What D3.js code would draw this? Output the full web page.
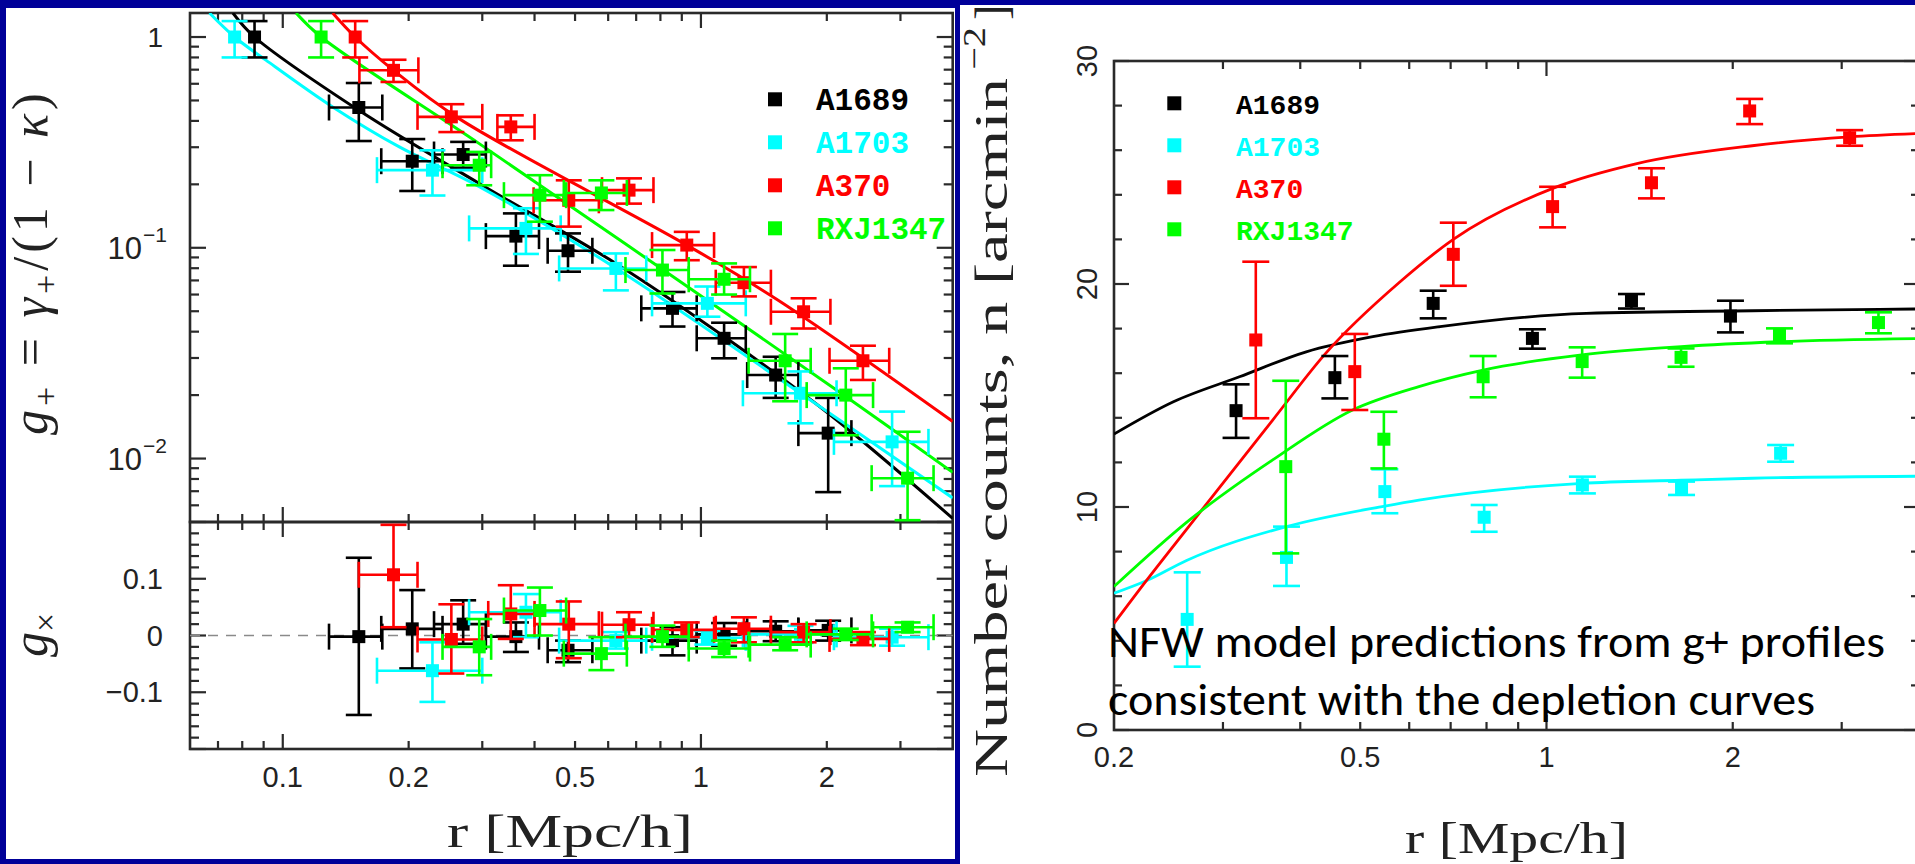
<!DOCTYPE html>
<html><head><meta charset="utf-8">
<script src="https://cdn.jsdelivr.net/npm/d3@7"></script>
<style>body{margin:0;background:#000099;overflow:hidden} svg{display:block}</style>
</head><body>
<svg id="chart" width="1915" height="864"></svg>
<script>
// ---------------- DATA ----------------
const seriesNames = ["A1689", "A1703", "A370", "RXJ1347"];
const seriesColors = ["#000000", "#00ffff", "#ff0000", "#00ff00"];

// Left top panel: g+ profile  [r, g, rLo, rHi, gLo, gHi]
const gplusA1689 = [
  [0.0856,1.0,0.0856,0.0856,0.80,1.19],[0.152,0.463,0.129,0.173,0.321,0.605],
  [0.204,0.2575,0.172,0.241,0.186,0.328],[0.270,0.277,0.230,0.306,0.24,0.318],
  [0.361,0.1136,0.306,0.41,0.0822,0.1456],[0.481,0.0968,0.43,0.55,0.077,0.117],
  [0.855,0.0516,0.72,0.977,0.0423,0.0617],[1.136,0.0372,0.977,1.28,0.0299,0.0441],
  [1.509,0.0249,1.29,1.71,0.0194,0.0304],[2.015,0.0132,1.71,2.29,0.00693,0.0194]];
const gplusA1703 = [
  [0.0767,1.0,0.0767,0.0767,0.80,1.19],[0.228,0.2335,0.168,0.30,0.177,0.29],
  [0.3815,0.1236,0.279,0.462,0.0935,0.154],[0.626,0.0798,0.458,0.74,0.0628,0.094],
  [1.036,0.0545,0.764,1.28,0.0471,0.0655],[1.73,0.0204,1.26,2.11,0.0147,0.0259],
  [2.865,0.012,2.08,3.5,0.0074,0.0167]];
const gplusA370 = [
  [0.149,1.0,0.149,0.149,0.80,1.19],[0.184,0.695,0.1525,0.211,0.612,0.78],
  [0.253,0.418,0.21,0.30,0.354,0.48],[0.351,0.3746,0.326,0.40,0.3236,0.425],
  [0.483,0.168,0.398,0.57,0.126,0.209],[0.673,0.1877,0.58,0.77,0.162,0.2135],
  [0.925,0.103,0.764,1.075,0.0873,0.119],[1.267,0.0683,1.085,1.47,0.0588,0.081],
  [1.76,0.0497,1.47,2.04,0.0414,0.0576],[2.44,0.0291,2.03,2.82,0.0236,0.0343]];
const gplusRXJ1347 = [
  [0.1235,1.0,0.1235,0.1235,0.80,1.19],[0.295,0.2465,0.241,0.315,0.198,0.285],
  [0.412,0.1777,0.338,0.476,0.133,0.221],[0.578,0.182,0.47,0.665,0.151,0.209],
  [0.809,0.0784,0.66,0.935,0.0607,0.0976],[1.136,0.0709,0.935,1.31,0.06,0.0843],
  [1.59,0.0291,1.30,1.83,0.0187,0.039],[2.22,0.02,1.79,2.58,0.0129,0.0268],
  [3.12,0.00807,2.56,3.6,0.0051,0.0134]];

// NFW model curves for g+ [r, g]
const gplusModelA1689 = [[0.076,1.3],[0.0856,1.0],[0.152,0.449],[0.295,0.202],[0.626,0.0843],[1.136,0.0379],[2.015,0.0164],[4.0,0.0052]];
const gplusModelA1703 = [[0.0668,1.3],[0.0767,1.0],[0.0913,0.775],[0.1316,0.466],[0.19,0.301],[0.295,0.195],[0.626,0.08],[1.73,0.0204],[4.0,0.0065]];
const gplusModelA370 = [[0.1316,1.3],[0.149,1.0],[0.184,0.695],[0.264,0.41],[0.925,0.103],[1.53,0.0564],[4.0,0.015]];
const gplusModelRXJ1347 = [[0.1076,1.3],[0.1235,1.0],[0.295,0.312],[0.794,0.081],[2.22,0.0197],[4.0,0.0086]];

// Left bottom panel: g_x  [r, g, rLo, rHi, gLo, gHi]
const gcrossA1689 = [
  [0.152,-0.002,0.129,0.173,-0.14,0.137],[0.204,0.0117,0.172,0.241,-0.058,0.08],
  [0.270,0.02,0.23,0.306,-0.0146,0.062],[0.361,-0.002,0.306,0.41,-0.029,0.023],
  [0.481,-0.026,0.43,0.55,-0.047,-0.009],[0.855,-0.009,0.72,0.977,-0.035,0.0146],
  [1.136,0.002,0.977,1.28,-0.018,0.022],[1.509,0.0075,1.29,1.71,-0.01,0.025],
  [2.015,0.009,1.71,2.29,-0.009,0.026]];
const gcrossA1703 = [
  [0.228,-0.062,0.168,0.30,-0.117,-0.012],[0.3815,0.041,0.279,0.462,-0.003,0.073],
  [0.626,-0.009,0.458,0.74,-0.023,0.006],[1.036,-0.004,0.764,1.28,-0.016,0.008],
  [1.73,0.002,1.26,2.11,-0.013,0.017],[2.865,-0.003,2.08,3.5,-0.018,0.012]];
const gcrossA370 = [
  [0.184,0.107,0.152,0.21,0.0146,0.195],[0.253,-0.007,0.21,0.30,-0.067,0.055],
  [0.351,0.038,0.31,0.40,-0.006,0.0886],[0.483,0.02,0.40,0.57,-0.04,0.06],
  [0.673,0.019,0.58,0.77,-0.003,0.041],[0.925,0.01,0.764,1.075,-0.003,0.023],
  [1.267,0.012,1.085,1.47,-0.012,0.032],[1.76,0.006,1.47,2.04,-0.012,0.02],
  [2.44,-0.006,2.03,2.82,-0.017,0.006]];
const gcrossRXJ1347 = [
  [0.295,-0.02,0.241,0.315,-0.07,0.029],[0.412,0.044,0.338,0.476,0.0,0.0845],
  [0.578,-0.032,0.47,0.665,-0.061,-0.003],[0.809,-0.002,0.66,0.935,-0.02,0.0175],
  [1.136,-0.023,0.935,1.31,-0.038,-0.009],[1.59,-0.016,1.30,1.83,-0.026,-0.003],
  [2.22,0.002,1.79,2.58,-0.008,0.012],[3.12,0.0146,2.56,3.6,0.006,0.023]];

// Right panel: number counts  [r, n, nLo, nHi]
const countsA1689 = [[0.315,14.32,13.1,15.5],[0.455,15.8,14.87,16.77],[0.656,19.13,18.46,19.7],
  [0.949,17.56,17.1,17.97],[1.372,19.25,18.9,19.55],[1.983,18.56,17.83,19.25]];
const countsA1703 = [[0.2626,4.96,2.84,7.07],[0.38,7.74,6.46,9.12],[0.548,10.69,9.72,11.69],
  [0.793,9.54,8.89,10.09],[1.143,10.99,10.61,11.36],[1.653,10.84,10.54,11.14],[2.39,12.41,12.03,12.78]];
const countsA370 = [[0.339,17.49,13.98,21.0],[0.49,16.07,14.35,17.76],[0.707,21.33,19.92,22.75],
  [1.023,23.47,22.54,24.36],[1.478,24.54,23.84,25.19],[2.13,27.76,27.17,28.3],[3.09,26.56,26.2,26.9]];
const countsRXJ1347 = [[0.379,11.81,7.92,15.66],[0.546,13.04,11.73,14.27],[0.79,15.84,14.92,16.77],
  [1.142,16.52,15.8,17.16],[1.65,16.71,16.29,17.11],[2.38,17.71,17.34,18.01],[3.44,18.27,17.79,18.73]];

// NFW depletion predictions [r, n]
const countsModelA1689 = [[0.2,13.27],[0.2495,14.72],[0.319,15.84],[0.409,16.96],[0.524,17.64],[0.673,18.09],[1.16,18.68],[2.15,18.8],[4.0,18.88]];
const countsModelA1703 = [[0.2,6.13],[0.226,6.7],[0.262,7.6],[0.38,9.12],[0.548,10.04],[0.622,10.31],[1.14,11.06],[1.65,11.2],[2.15,11.29],[4.0,11.38]];
const countsModelA370 = [[0.2,4.78],[0.2256,6.7],[0.262,9.0],[0.361,13.9],[0.44,16.9],[0.58,20.1],[0.707,22.0],[1.026,24.3],[1.4,25.4],[2.15,26.2],[3.09,26.6],[4.0,26.75]];
const countsModelRXJ1347 = [[0.2,6.43],[0.265,9.42],[0.361,12.11],[0.486,14.35],[0.622,15.4],[0.79,16.14],[1.14,16.82],[1.65,17.19],[2.38,17.41],[4.0,17.55]];

// Tick values / labels
const leftXLabels = [0.1, 0.2, 0.5, 1, 2];
const leftXMajor = [0.1, 1];
const leftXMinor = [0.07,0.08,0.09,0.2,0.3,0.4,0.5,0.6,0.7,0.8,0.9,2,3];
const upperYMajor = [0.01, 0.1, 1];
const upperYMinor = [0.006,0.007,0.008,0.009,0.02,0.03,0.04,0.05,0.06,0.07,0.08,0.09,0.2,0.3,0.4,0.5,0.6,0.7,0.8,0.9];
const lowerYMajor = [-0.2,-0.1,0,0.1,0.2];
const lowerYMinor = [-0.18,-0.16,-0.14,-0.12,-0.08,-0.06,-0.04,-0.02,0.02,0.04,0.06,0.08,0.12,0.14,0.16,0.18];
const lowerYLabels = [[0.1,"0.1"],[0,"0"],[-0.1,"\u22120.1"]];
const rightXLabels = [0.2, 0.5, 1, 2];
const rightXMajor = [1];
const rightXMinor = [0.3,0.4,0.5,0.6,0.7,0.8,0.9,2,3];
const rightYMajor = [0,10,20,30];
const rightYMinor = [2,4,6,8,12,14,16,18,22,24,26,28];

// ---------------- DRAW ----------------
const svg = d3.select("#chart");
svg.append("rect").attr("width",1915).attr("height",864).attr("fill","#000099");
svg.append("rect").attr("x",6).attr("y",8).attr("width",949).attr("height",851).attr("fill","#ffffff");
svg.append("rect").attr("x",960).attr("y",5).attr("width",955).attr("height",859).attr("fill","#ffffff");

const AX = "#2a2a2a";
const SANS = "'Liberation Sans', Arial, Helvetica, sans-serif";
const SERIF = "'Liberation Serif', 'Times New Roman', serif";
const MONO = "'Liberation Mono', 'Courier New', monospace";

const xL = d3.scaleLog().domain([0.06, 4]).range([190, 952.7]);
const yU = d3.scaleLog().domain([0.005, 1.3]).range([522, 13]);
const yLo = d3.scaleLinear().domain([-0.2, 0.2]).range([749, 522]);
const xR = d3.scaleLog().domain([0.2, 4]).range([1114, 1919]);
const yR = d3.scaleLinear().domain([0, 30]).range([730, 61]);

const defs = svg.append("defs");
function clip(id, x, y, w, h){ defs.append("clipPath").attr("id", id).append("rect").attr("x",x).attr("y",y).attr("width",w).attr("height",h); }
clip("cu", 190, 13, 762.7, 509);
clip("cl", 190, 522, 762.7, 227);
clip("cr", 1114, 61, 805, 669);

function xTicks(g, sx, vals, y, len){
  g.append("g").selectAll("line").data(vals).join("line")
    .attr("x1", d=>sx(d)).attr("x2", d=>sx(d)).attr("y1", y).attr("y2", y+len)
    .attr("stroke", AX).attr("stroke-width", 2.2);
}
function yTicks(g, sy, vals, x, len){
  g.append("g").selectAll("line").data(vals).join("line")
    .attr("y1", d=>sy(d)).attr("y2", d=>sy(d)).attr("x1", x).attr("x2", x+len)
    .attr("stroke", AX).attr("stroke-width", 2.2);
}

// ---- Left: frames & ticks
const gAx = svg.append("g");
[[190,13,762.7,509],[190,522,762.7,227]].forEach(r=>{
  gAx.append("rect").attr("x",r[0]).attr("y",r[1]).attr("width",r[2]).attr("height",r[3])
    .attr("fill","none").attr("stroke",AX).attr("stroke-width",2.6);
});
[[13,1],[522,-1],[522,1],[749,-1]].forEach(([y,d])=>{
  xTicks(gAx, xL, leftXMajor, y, 15*d);
  xTicks(gAx, xL, leftXMinor, y, 8*d);
});
yTicks(gAx, yU, upperYMajor, 190, 16); yTicks(gAx, yU, upperYMinor, 190, 9);
yTicks(gAx, yU, upperYMajor, 952.7, -16); yTicks(gAx, yU, upperYMinor, 952.7, -9);
yTicks(gAx, yLo, lowerYMajor, 190, 16); yTicks(gAx, yLo, lowerYMinor, 190, 9);
yTicks(gAx, yLo, lowerYMajor, 952.7, -16); yTicks(gAx, yLo, lowerYMinor, 952.7, -9);

gAx.append("line").attr("x1",190).attr("x2",952.7).attr("y1",yLo(0)).attr("y2",yLo(0))
  .attr("stroke","#8a8a8a").attr("stroke-width",1.6).attr("stroke-dasharray","10,8");

gAx.append("g").selectAll("text").data(leftXLabels).join("text")
  .attr("x", d=>xL(d)).attr("y", 787).attr("text-anchor","middle")
  .attr("font-family", SANS).attr("font-size", 29).attr("fill","#222").text(d=>String(d));
gAx.append("text").attr("x",163).attr("y",yU(1)+10).attr("text-anchor","end")
  .attr("font-family",SANS).attr("font-size",28).attr("fill","#222").text("1");
[[0.1,"\u22121"],[0.01,"\u22122"]].forEach(([v,e])=>{
  gAx.append("text").attr("x",142).attr("y",yU(v)+11).attr("text-anchor","end")
    .attr("font-family",SANS).attr("font-size",31).attr("fill","#222").text("10");
  gAx.append("text").attr("x",143).attr("y",yU(v)-6).attr("text-anchor","start")
    .attr("font-family",SANS).attr("font-size",21).attr("fill","#222").text(e);
});
gAx.append("g").selectAll("text").data(lowerYLabels).join("text")
  .attr("x",163).attr("y",d=>yLo(d[0])+10).attr("text-anchor","end")
  .attr("font-family",SANS).attr("font-size",29).attr("fill","#222").text(d=>d[1]);

gAx.append("text").attr("x",447).attr("y",847).attr("font-family",SERIF).attr("font-size",46)
  .attr("fill","#222").attr("textLength",246).attr("lengthAdjust","spacingAndGlyphs").text("r [Mpc/h]");
const yt = gAx.append("text").attr("transform","translate(47,435) rotate(-90)")
  .attr("font-family",SERIF).attr("font-size",50).attr("fill","#222").attr("letter-spacing",4);
yt.append("tspan").attr("font-style","italic").text("g");
yt.append("tspan").attr("font-size",34).attr("dy",10).text("+");
yt.append("tspan").attr("dy",-10).text(" = ");
yt.append("tspan").attr("font-style","italic").text("\u03b3");
yt.append("tspan").attr("font-size",34).attr("dy",10).text("+");
yt.append("tspan").attr("dy",-10).text("/(1 \u2212 ");
yt.append("tspan").attr("font-style","italic").text("\u03ba");
yt.append("tspan").text(")");
const yt2 = gAx.append("text").attr("transform","translate(47,657) rotate(-90)")
  .attr("font-family",SERIF).attr("font-size",50).attr("fill","#222");
yt2.append("tspan").attr("font-style","italic").text("g");
yt2.append("tspan").attr("font-size",34).attr("dy",10).text("\u00d7");

// ---- Left: curves and points
const gplusData = [gplusA1689, gplusA1703, gplusA370, gplusRXJ1347];
const gplusModels = [gplusModelA1689, gplusModelA1703, gplusModelA370, gplusModelRXJ1347];
const gcrossData = [gcrossA1689, gcrossA1703, gcrossA370, gcrossRXJ1347];

const lineU = d3.line().x(d=>xL(d[0])).y(d=>yU(d[1])).curve(d3.curveCatmullRom);
const gCurves = svg.append("g").attr("clip-path","url(#cu)");
gplusModels.forEach((m,i)=>{
  gCurves.append("path").datum(m).attr("d",lineU).attr("fill","none")
    .attr("stroke",seriesColors[i]).attr("stroke-width",3);
});

function drawErr(g, data, sx, sy, color, opts){
  const cap = opts.cap, sz = opts.size;
  const gg = g.append("g").attr("stroke", color).attr("stroke-width", 2.6);
  gg.selectAll(".v").data(data).join("line")
    .attr("x1", d=>sx(d[0])).attr("x2", d=>sx(d[0]))
    .attr("y1", d=>sy(d[opts.lo])).attr("y2", d=>sy(d[opts.hi]));
  [opts.lo, opts.hi].forEach(k=>{
    gg.append("g").selectAll("line").data(data).join("line")
      .attr("x1", d=>sx(d[0])-cap/2).attr("x2", d=>sx(d[0])+cap/2)
      .attr("y1", d=>sy(d[k])).attr("y2", d=>sy(d[k]));
  });
  if (opts.xerr){
    const xd = data.filter(d=>d[2] < d[0]);
    gg.append("g").selectAll("line").data(xd).join("line")
      .attr("x1", d=>sx(d[2])).attr("x2", d=>sx(d[3]))
      .attr("y1", d=>sy(d[1])).attr("y2", d=>sy(d[1]));
    [2,3].forEach(k=>{
      gg.append("g").selectAll("line").data(xd).join("line")
        .attr("x1", d=>sx(d[k])).attr("x2", d=>sx(d[k]))
        .attr("y1", d=>sy(d[1])-cap/2).attr("y2", d=>sy(d[1])+cap/2);
    });
  }
  g.append("g").selectAll("rect").data(data).join("rect")
    .attr("x", d=>sx(d[0])-sz/2).attr("y", d=>sy(d[1])-sz/2)
    .attr("width", sz).attr("height", sz).attr("fill", color);
}

const gPts = svg.append("g");
gplusData.forEach((d,i)=> drawErr(gPts, d, xL, yU, seriesColors[i], {cap:26, size:13, lo:4, hi:5, xerr:true}));
gcrossData.forEach((d,i)=> drawErr(gPts, d, xL, yLo, seriesColors[i], {cap:26, size:13, lo:4, hi:5, xerr:true}));

const legL = svg.append("g");
seriesNames.forEach((n,i)=>{
  const cy = 99.3 + i*43;
  legL.append("rect").attr("x",775-7).attr("y",cy-7).attr("width",14).attr("height",14).attr("fill",seriesColors[i]);
  legL.append("text").attr("x",816).attr("y",cy+11).attr("font-family",MONO).attr("font-weight","bold")
    .attr("font-size",31).attr("fill",seriesColors[i]).text(n);
});

// ---- Right: frame & ticks
const gR = svg.append("g");
gR.append("rect").attr("x",1114).attr("y",61).attr("width",805).attr("height",669)
  .attr("fill","none").attr("stroke",AX).attr("stroke-width",2.6);
xTicks(gR, xR, rightXMajor, 61, 15); xTicks(gR, xR, rightXMinor, 61, 8);
xTicks(gR, xR, rightXMajor, 730, -15); xTicks(gR, xR, rightXMinor, 730, -8);
yTicks(gR, yR, rightYMajor, 1114, 15); yTicks(gR, yR, rightYMinor, 1114, 8);
yTicks(gR, yR, rightYMajor, 1919, -15); yTicks(gR, yR, rightYMinor, 1919, -8);

gR.append("g").selectAll("text").data(rightXLabels).join("text")
  .attr("x", d=>xR(d)).attr("y", 767).attr("text-anchor","middle")
  .attr("font-family", SANS).attr("font-size", 29).attr("fill","#222").text(d=>String(d));
gR.append("g").selectAll("text").data(rightYMajor).join("text")
  .attr("transform", d=>`translate(1097,${yR(d)}) rotate(-90)`).attr("text-anchor","middle")
  .attr("font-family", SANS).attr("font-size", 29).attr("fill","#222").text(d=>String(d));

gR.append("text").attr("x",1405).attr("y",853).attr("font-family",SERIF).attr("font-size",44)
  .attr("fill","#222").attr("textLength",223).attr("lengthAdjust","spacingAndGlyphs").text("r [Mpc/h]");
gR.append("text").attr("transform","translate(1007,777) rotate(-90)").attr("font-family",SERIF)
  .attr("font-size",46).attr("fill","#222").attr("textLength",699).attr("lengthAdjust","spacingAndGlyphs")
  .text("Number counts, n [arcmin");
gR.append("text").attr("transform","translate(985,70) rotate(-90)").attr("font-family",SERIF)
  .attr("font-size",32).attr("fill","#222").attr("textLength",43).attr("lengthAdjust","spacingAndGlyphs").text("\u22122");
gR.append("text").attr("transform","translate(1007,20) rotate(-90)").attr("font-family",SERIF)
  .attr("font-size",46).attr("fill","#222").text("]");

const countsData = [countsA1689, countsA1703, countsA370, countsRXJ1347];
const countsModels = [countsModelA1689, countsModelA1703, countsModelA370, countsModelRXJ1347];
const lineR = d3.line().x(d=>xR(d[0])).y(d=>yR(d[1])).curve(d3.curveMonotoneX);
const gRC = svg.append("g").attr("clip-path","url(#cr)");
countsModels.forEach((m,i)=>{
  gRC.append("path").datum(m).attr("d",lineR).attr("fill","none")
    .attr("stroke",seriesColors[i]).attr("stroke-width",2.8);
});
const gRP = svg.append("g");
countsData.forEach((d,i)=> drawErr(gRP, d, xR, yR, seriesColors[i], {cap:27, size:13, lo:2, hi:3, xerr:false}));

const legR = svg.append("g");
seriesNames.forEach((n,i)=>{
  const cy = 103.3 + i*42;
  legR.append("rect").attr("x",1174.3-7).attr("y",cy-7).attr("width",14).attr("height",14).attr("fill",seriesColors[i]);
  legR.append("text").attr("x",1236).attr("y",cy+11).attr("font-family",MONO).attr("font-weight","bold")
    .attr("font-size",28).attr("fill",seriesColors[i]).text(n);
});

const ann = svg.append("g").attr("font-family","Carlito, Calibri, Lato, 'Open Sans', sans-serif")
  .attr("font-size",46).attr("fill","#000");
ann.append("text").attr("x",1108).attr("y",657).attr("textLength",777).attr("lengthAdjust","spacingAndGlyphs")
  .text("NFW model predictions from g+ profiles");
ann.append("text").attr("x",1108).attr("y",715).attr("textLength",707).attr("lengthAdjust","spacingAndGlyphs")
  .text("consistent with the depletion curves");
</script>
</body></html>
